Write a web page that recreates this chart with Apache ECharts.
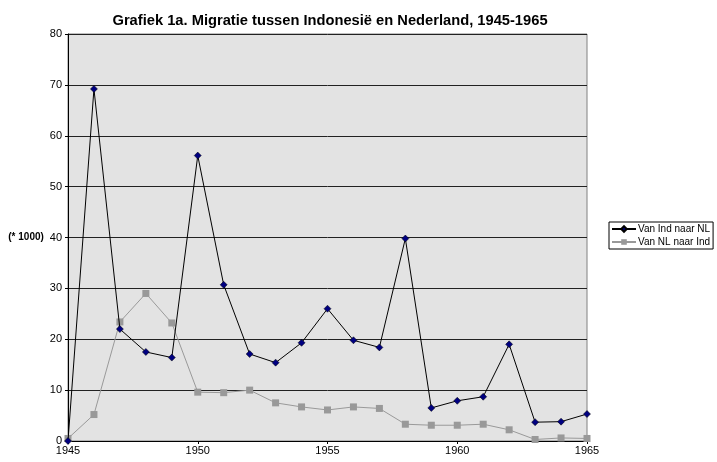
<!DOCTYPE html>
<html>
<head>
<meta charset="utf-8">
<script src="https://cdn.jsdelivr.net/npm/echarts@6/dist/echarts.min.js"></script>
<style>
  html, body { margin: 0; padding: 0; background: #fff; }
  #chart { width: 717px; height: 462px; }
</style>
</head>
<body>
<div id="chart"></div>
<script>
// jaren 1945-1965
const years = ['1945', '1946', '1947', '1948', '1949', '1950', '1951', '1952', '1953', '1954', '1955',
  '1956', '1957', '1958', '1959', '1960', '1961', '1962', '1963', '1964', '1965']

// migratie x 1000
const indNaarNL = [0, 69.2, 22, 17.5, 16.4, 56.1, 30.7, 17.1, 15.4, 19.3, 26,
  19.8, 18.4, 39.8, 6.5, 7.9, 8.7, 19, 3.7, 3.8, 5.3]
const nlNaarInd = [0.5, 5.2, 23.4, 29, 23.2, 9.6, 9.5, 10, 7.5, 6.7, 6.1,
  6.7, 6.4, 3.3, 3.1, 3.1, 3.3, 2.2, 0.3, 0.6, 0.5]

const chart = echarts.init(document.getElementById('chart'))
const font = 'Liberation Sans, Arial, sans-serif'

const option = {
  animation: false,
  title: {
    text: 'Grafiek 1a. Migratie tussen Indonesië en Nederland, 1945-1965',
    left: 325,
    textAlign: 'center',
    top: 8,
    textStyle: { fontFamily: font, fontSize: 14.7, fontWeight: 'bold', color: '#000' }
  },
  legend: {
    orient: 'vertical',
    left: 609,
    top: 222,
    borderColor: '#000',
    borderWidth: 1,
    padding: [2, 3, 2, 2],
    itemGap: 3,
    itemWidth: 24,
    itemHeight: 7,
    textStyle: { fontFamily: font, fontSize: 10, color: '#000', padding: [0, 0, 0, -3] },
    data: ['Van Ind naar NL', 'Van NL naar Ind']
  },
  grid: {
    left: 68,
    right: 130,
    top: 34,
    bottom: 21,
    show: true,
    backgroundColor: '#e3e3e3',
    borderColor: '#808080',
    borderWidth: 1
  },
  xAxis: {
    type: 'category',
    data: years,
    boundaryGap: false,
    axisLine: { lineStyle: { color: '#000', width: 1 } },
    axisTick: { show: true, interval: 4, length: 3, lineStyle: { color: '#000' } },
    axisLabel: { interval: 4, fontFamily: font, fontSize: 11, color: '#000', margin: 4 },
    splitLine: { show: false }
  },
  yAxis: {
    type: 'value',
    min: 0,
    max: 80,
    interval: 10,
    name: '(* 1000)',
    nameLocation: 'middle',
    nameRotate: 0,
    nameGap: 21,
    nameTextStyle: { fontFamily: font, fontSize: 10, fontWeight: 'bold', color: '#000' },
    axisLine: { show: true, lineStyle: { color: '#000', width: 1 } },
    axisTick: { show: true, length: 3, lineStyle: { color: '#000' } },
    axisLabel: { fontFamily: font, fontSize: 11, color: '#000', margin: 6 },
    splitLine: { show: true, lineStyle: { color: '#222', width: 1 } }
  },
  series: [
    {
      name: 'Van Ind naar NL',
      type: 'line',
      data: indNaarNL,
      symbol: 'diamond',
      symbolSize: 7,
      lineStyle: { color: '#000', width: 1 },
      itemStyle: { color: '#000080', borderColor: '#000', borderWidth: 0.5 },
      z: 3
    },
    {
      name: 'Van NL naar Ind',
      type: 'line',
      data: nlNaarInd,
      symbol: 'rect',
      symbolSize: 7,
      lineStyle: { color: '#999', width: 1 },
      itemStyle: { color: '#999', borderWidth: 0 },
      z: 2
    }
  ]
}

chart.setOption(option)
window.addEventListener('resize', () => chart.resize())
</script>
</body>
</html>
